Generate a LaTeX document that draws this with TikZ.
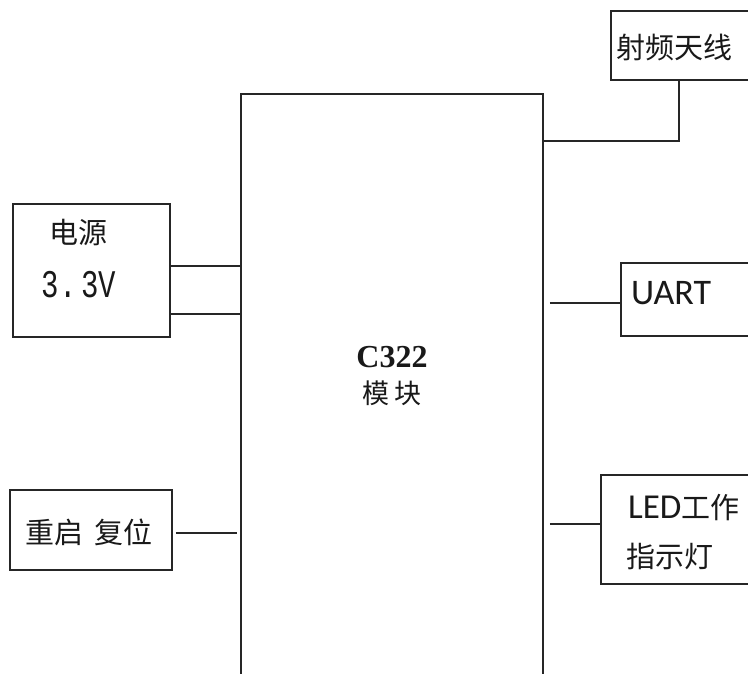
\documentclass[tikz,border=0pt]{standalone}
\usepackage{fontspec}
\newfontfamily\cjk{Noto Sans CJK SC}
\newfontfamily\carl{Carlito}
\newfontfamily\monof{Liberation Mono}
\newfontfamily\lserif{Liberation Serif}
\begin{document}
\begin{tikzpicture}[x=1pt,y=-1pt,
  blk/.style={draw=black!85,line width=1.6pt,rectangle,inner sep=0pt},
  wire/.style={draw=black!85,line width=1.6pt},
  txt/.style={inner sep=0pt,text=black!90},
  cjkt/.style={txt,font=\cjk\fontsize{29}{32}\selectfont}]
\useasboundingbox (0,0) rectangle (748,673);
\clip (0,0) rectangle (748,673);
\fill[white] (0,0) rectangle (748,673);
% main module
\node[blk,minimum width=302pt,minimum height=616pt] (main) at (392,402) {};
\node[txt,font=\lserif\bfseries\fontsize{32}{34}\selectfont] (mlab) at (392,357) {C322};
\node[txt,font=\cjk\fontsize{27}{30}\selectfont] (mlab2) at (392,393) {模\hspace{6pt}块};
% antenna
\node[blk,minimum width=159pt,minimum height=69pt] (ant) at (690.5,45.5) {};
\node[cjkt,anchor=west] (antl) at (616,47) {射频天线};
% power
\node[blk,minimum width=157pt,minimum height=133pt] (pwr) at (91.5,270.5) {};
\node[cjkt] (pwrl) at (78,233) {电源};
\node[txt] (pwrv) at (79,285) {\monof\fontsize{29}{30}\selectfont\scalebox{1}[1.35]{3.\,3V}};
% reset
\node[blk,minimum width=162pt,minimum height=80pt] (rst) at (91,530) {};
\node[cjkt] (rstl) at (89,532) {重启\hspace{0.4em}复位};
% UART
\node[blk,minimum width=149pt,minimum height=73pt] (uart) at (695.5,299.5) {};
\node[txt,anchor=west,font=\carl\fontsize{36}{40}\selectfont] (uartl) at (631,293.5) {UART};
% LED
\node[blk,minimum width=169pt,minimum height=109pt] (led) at (685.5,529.5) {};
\node[txt,anchor=west] (ledl) at (628,508) {{\carl\fontsize{35}{40}\selectfont LED}{\cjk\fontsize{29}{32}\selectfont 工作}};
\node[cjkt,anchor=west] (ledl2) at (626,556) {指示灯};
% connectors
\draw[wire] (main.east |- 0,141) -| (ant.south -| 679,0);
\draw[wire] (pwr.east |- 0,266) -- (main.west |- 0,266);
\draw[wire] (pwr.east |- 0,314) -- (main.west |- 0,314);
\draw[wire,shorten <=3pt,shorten >=3pt] (rst.east |- 0,533) -- (main.west |- 0,533);
\draw[wire,shorten <=6pt] (main.east |- 0,303) -- (uart.west |- 0,303);
\draw[wire,shorten <=6pt] (main.east |- 0,524) -- (led.west |- 0,524);
\end{tikzpicture}
\end{document}
